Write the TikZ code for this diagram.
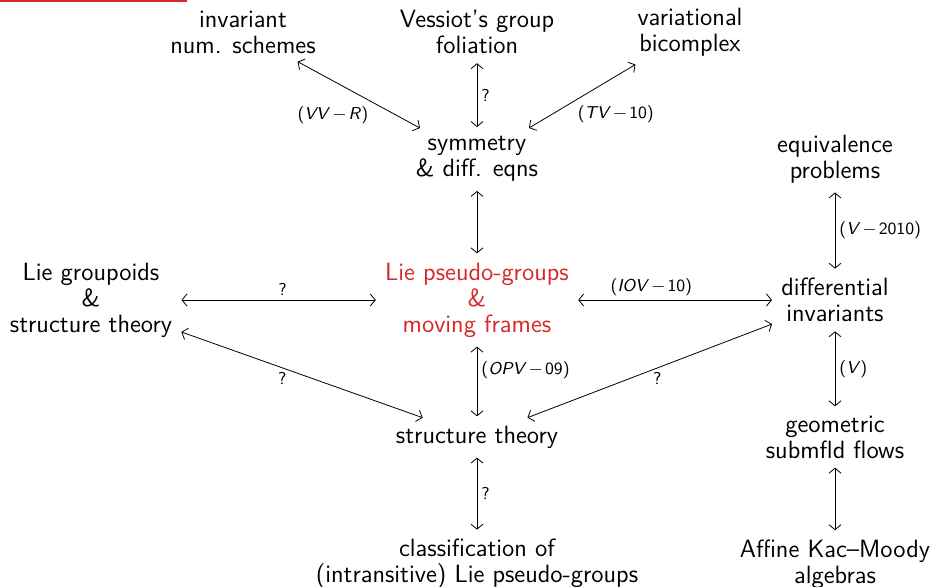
\documentclass[tikz,border=0pt]{standalone}
\usepackage{tikz}
\usetikzlibrary{arrows.meta, positioning}
\definecolor{alertred}{RGB}{215,40,40}

\begin{document}
\begin{tikzpicture}[x=0.5pt, y=-0.5pt,
    topic/.style={align=center, font=\fontsize{12.5}{13}\selectfont\sffamily, inner sep=3.5pt},
    link/.style={{Straight Barb[length=2.5pt,width=6pt]}-{Straight Barb[length=2.5pt,width=6pt]}, thin, shorten <=1pt, shorten >=1pt},
    ref/.style={font=\fontsize{8.6}{10}\selectfont\sffamily, inner sep=2pt}
]
\useasboundingbox (0,0) rectangle (934,587);
\draw[alertred, line width=0.6pt] (0,1) -- (187,1);

% top row
\node[topic] (numsch) at (243,32) {invariant\\num. schemes};
\node[topic] (vessiot) at (477,32) {Vessiot's group\\foliation};
\node[topic] (bicx) at (690,32) {variational\\bicomplex};
% second row
\node[topic] (symm) at (477,159) {symmetry\\\& diff. eqns};
\node[topic] (equiv) at (835,159) {equivalence\\problems};
% middle row
\node[topic] (gpoid) at (91,300) {Lie groupoids\\\&\\structure theory};
\node[topic, text=alertred] (lpg) at (477,300) {Lie pseudo-groups\\\&\\moving frames};
\node[topic] (dinv) at (835,300) {differential\\invariants};
% fourth row
\node[topic] (struct) at (477,437) {structure theory};
\node[topic] (flows) at (835,437) {geometric\\submfld flows};
% bottom row
\node[topic] (classif) at (477,564) {classification of\\(intransitive) Lie pseudo-groups};
\node[topic] (kacm) at (835,564) {Affine Kac--Moody\\algebras};

\draw[link] (numsch) -- node[ref, pos=0.61, below left] {(\textit{VV}\kern1pt$-$\kern1pt\textit{R})} (symm);
\draw[link] (vessiot) -- node[ref, right] {?} (symm);
\draw[link] (bicx) -- node[ref, pos=0.58, below right] {(\textit{TV}\kern1pt$-$\kern1pt10)} (symm);
\draw[link] (symm) -- (lpg);
\draw[link] (equiv) -- node[ref, right] {(\textit{V}\kern1pt$-$\kern1pt2010)} (dinv);
\draw[link] (gpoid) -- node[ref, pos=0.52, above] {?} (lpg);
\draw[link] (lpg) -- node[ref, pos=0.38, above] {(\textit{IOV}\kern1pt$-$\kern1pt10)} (dinv);
\draw[link] (gpoid) -- node[ref, pos=0.42, below] {?} (struct);
\draw[link] (lpg) -- node[ref, pos=0.35, right] {(\textit{OPV}\kern1pt$-$\kern1pt09)} (struct);
\draw[link] (dinv) -- node[ref, pos=0.47, below] {?} (struct);
\draw[link] (dinv) -- node[ref, right] {(\textit{V})} (flows);
\draw[link] (struct) -- node[ref, right] {?} (classif);
\draw[link] (flows) -- (kacm);
\end{tikzpicture}
\end{document}
